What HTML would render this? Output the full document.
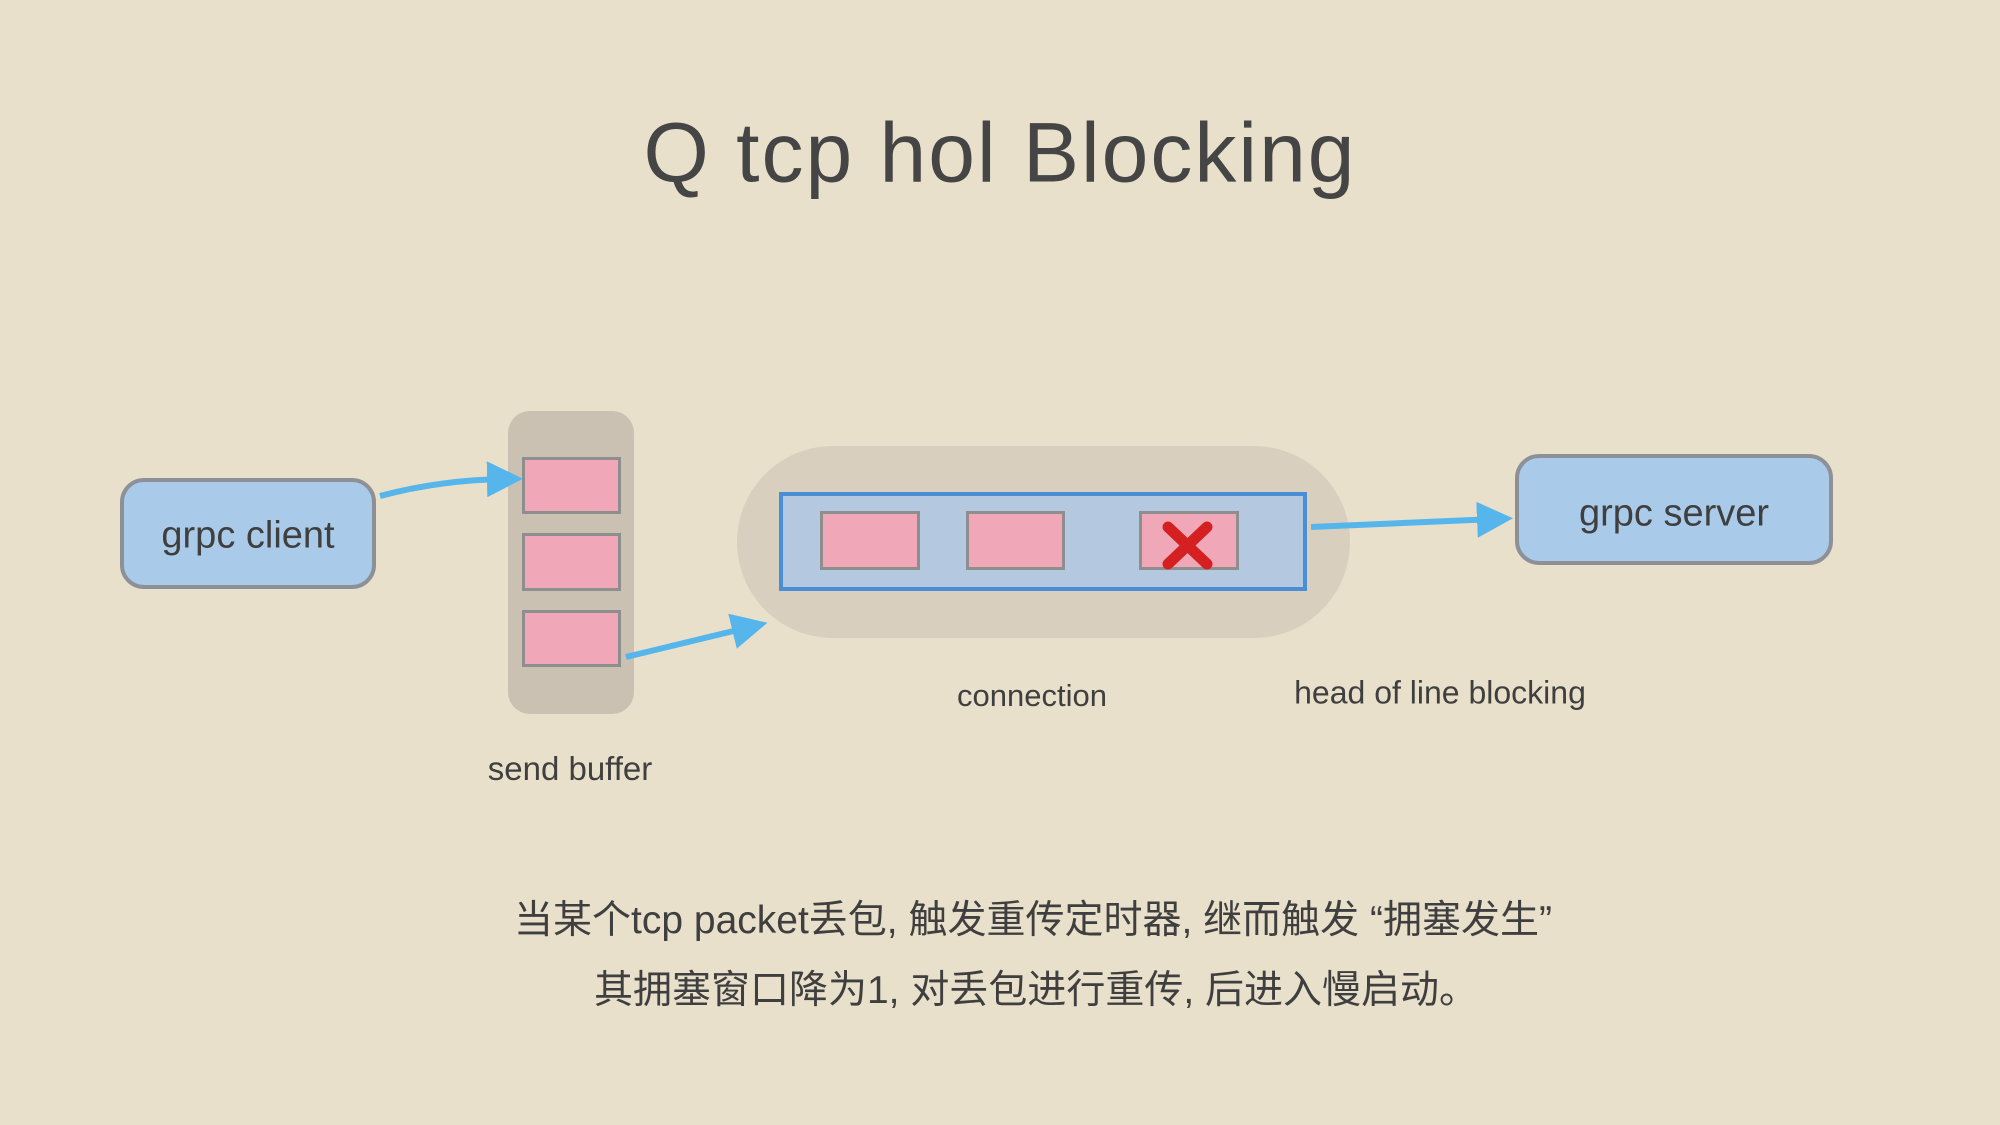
<!DOCTYPE html>
<html><head><meta charset="utf-8"><style>
body{margin:0;width:2000px;height:1125px;background:#e8e0cb;position:relative;overflow:hidden;font-family:"Liberation Sans","Noto Sans CJK SC",sans-serif;color:#3f3f3f}
.a{position:absolute;box-sizing:border-box}
.t{position:absolute;white-space:nowrap;transform:translate(-50%,-50%)}
.pk{position:absolute;box-sizing:border-box;background:#f0a8b8;border:3px solid #8e8e8e}
.bb{background:#a9cbe9;border:4px solid #8d9097;border-radius:24px}
</style></head><body>
<div class="t" style="left:1000px;top:153px;font-size:84px;color:#454545;letter-spacing:2px">Q tcp hol Blocking</div>

<div class="a bb" style="left:120px;top:478px;width:256px;height:111px"></div>
<div class="t" style="left:248px;top:536px;font-size:38px">grpc client</div>

<div class="a" style="left:508px;top:411px;width:126px;height:303px;background:#cac1b2;border-radius:22px"></div>
<div class="pk" style="left:522px;top:457px;width:99px;height:57px"></div>
<div class="pk" style="left:522px;top:533px;width:99px;height:58px"></div>
<div class="pk" style="left:522px;top:610px;width:99px;height:57px"></div>

<div class="a" style="left:737px;top:446px;width:613px;height:192px;background:#d8cfbe;border-radius:96px"></div>
<div class="a" style="left:779px;top:492px;width:528px;height:99px;background:#b4c9df;border:4px solid #4a8fd6"></div>
<div class="pk" style="left:820px;top:511px;width:100px;height:59px"></div>
<div class="pk" style="left:966px;top:511px;width:99px;height:59px"></div>
<div class="pk" style="left:1139px;top:511px;width:100px;height:59px"></div>

<div class="a bb" style="left:1515px;top:454px;width:318px;height:111px"></div>
<div class="t" style="left:1674px;top:514px;font-size:38px">grpc server</div>

<div class="t" style="left:570px;top:769px;font-size:33px">send buffer</div>
<div class="t" style="left:1032px;top:696px;font-size:31px">connection</div>
<div class="t" style="left:1440px;top:693px;font-size:32px">head of line blocking</div>

<div class="t" style="left:1033px;top:917px;font-size:39px">当某个tcp packet丢包, 触发重传定时器, 继而触发 “拥塞发生”</div>
<div class="t" style="left:1036px;top:987px;font-size:39px">其拥塞窗口降为1, 对丢包进行重传, 后进入慢启动。</div>

<svg class="a" style="left:0;top:0" width="2000" height="1125">
<defs><marker id="m" markerWidth="6" markerHeight="6" refX="3" refY="3" orient="auto"><path d="M0,0L6,3L0,6z" fill="#56b6ec"/></marker></defs>
<g stroke="#56b6ec" stroke-width="6" fill="none" marker-end="url(#m)">
<path d="M380,496 Q440,480 505,479"/>
<path d="M626,657 L750,627"/>
<path d="M1311,527 L1495,519"/>
</g>
<g stroke="#d42020" stroke-width="11" stroke-linecap="round">
<line x1="1168" y1="527" x2="1207" y2="564"/><line x1="1207" y1="527" x2="1168" y2="564"/>
</g>
</svg>
</body></html>
